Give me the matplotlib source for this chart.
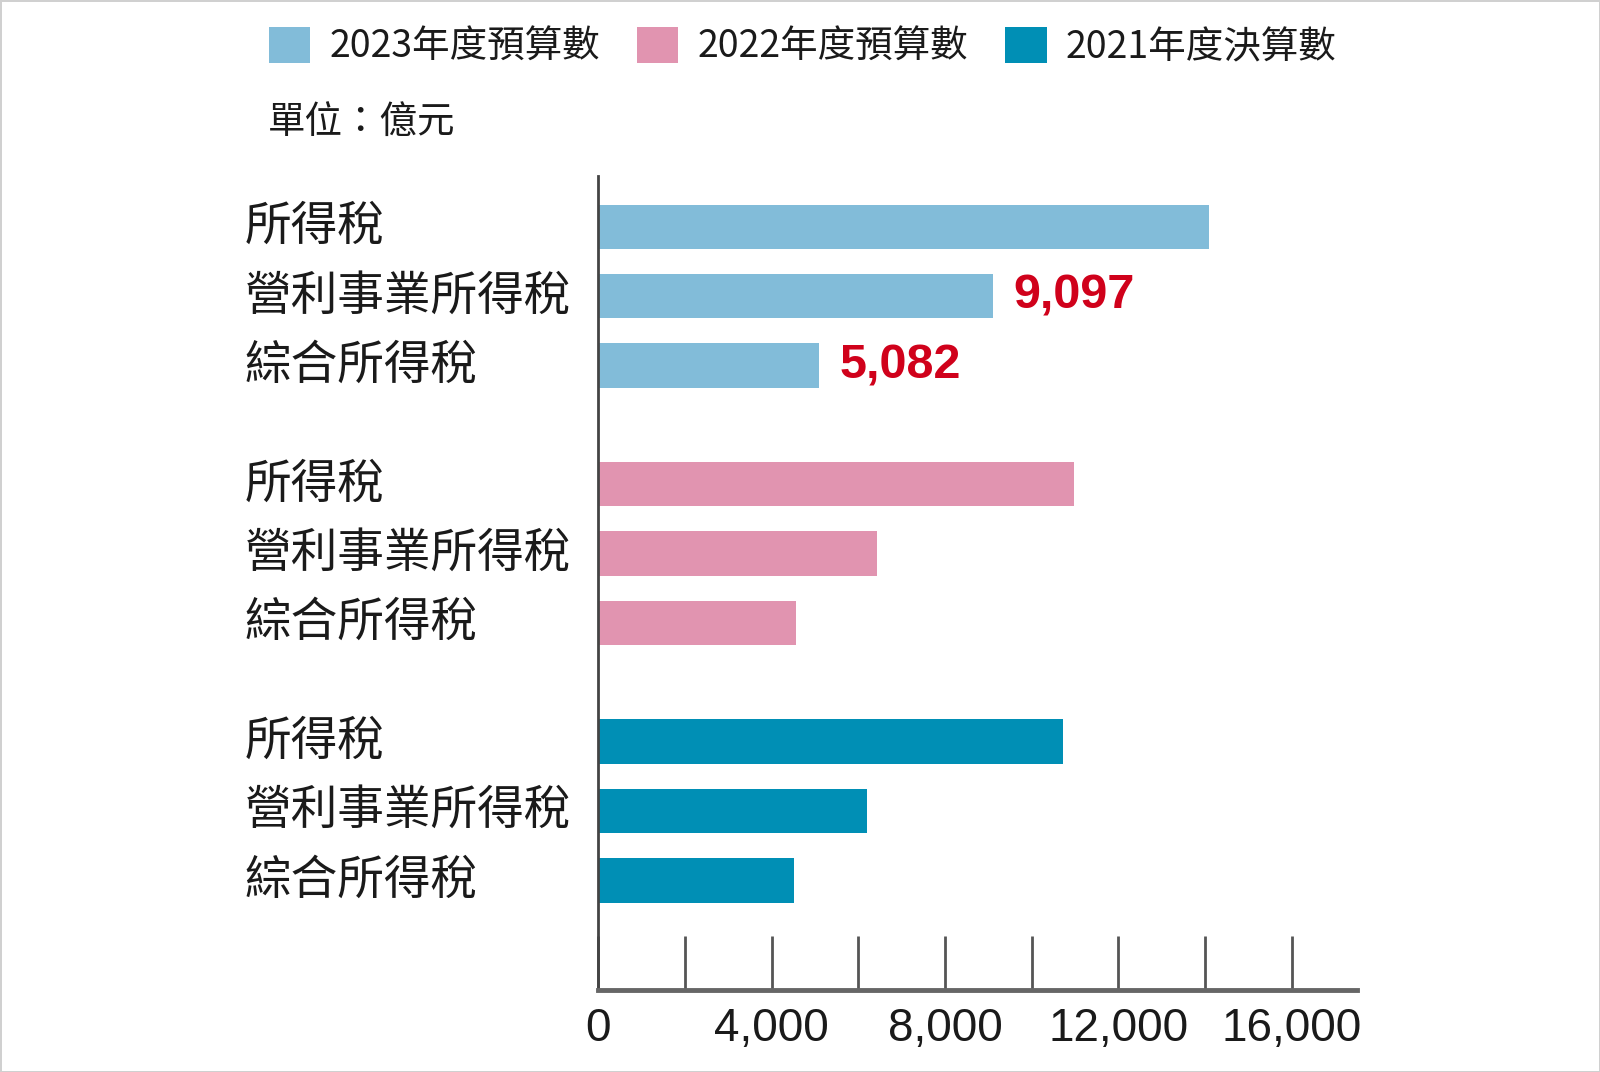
import matplotlib
matplotlib.use("Agg")
import matplotlib.pyplot as plt
from matplotlib.patches import Patch
from matplotlib.transforms import blended_transform_factory

plt.rcParams['font.family'] = ['Liberation Sans', 'Noto Sans CJK TC']
CJK = ['Noto Sans CJK TC', 'DejaVu Sans']

# data (unit: 億元)
years = ['2023年度預算數', '2022年度預算數', '2021年度決算數']
items = ['所得稅', '營利事業所得稅', '綜合所得稅']
vals_2023 = [14100, 9097, 5082]
vals_2022 = [10980, 6440, 4550]
vals_2021 = [10720, 6200, 4520]
labelled = {1: '9,097', 2: '5,082'}   # 2023 bars with value labels
colors = ['#82bcd9', '#e194b0', '#008fb5']
xticks = [0, 4000, 8000, 12000, 16000]
xtick_labels = ['0', '4,000', '8,000', '12,000', '16,000']

fig = plt.figure(figsize=(16, 10.72), dpi=100)
fig.patch.set_edgecolor('#d0d0d0')
fig.patch.set_linewidth(2)
ax = fig.add_axes([0.374, 0.0765, 0.474, 0.7595])

group_gap = 3.71
tr = blended_transform_factory(fig.transFigure, ax.transData)
for g, vals in enumerate([vals_2023, vals_2022, vals_2021]):
    pos = [g * group_gap + i for i in range(len(vals))]
    ax.barh(pos, vals, height=0.64, color=colors[g], zorder=2)
    for p, name in zip(pos, items):
        ax.text(0.153, p, name, transform=tr, ha='left', va='center',
                fontsize=33.6, family=CJK, color='#1a1a1a')
    if g == 0:
        for i, txt in labelled.items():
            ax.annotate(txt, (vals[i], pos[i]), xytext=(15, 0),
                        textcoords='offset points', ha='left', va='center',
                        fontsize=35, fontweight='bold', color='#d0011b')

ax.set_ylim(11.0, -0.735)
ax.set_xlim(0, 17500)
ax.set_yticks([])
ax.set_xticks(xticks)
ax.set_xticklabels(xtick_labels, fontsize=33, color='#1a1a1a')
ax.set_xticks(range(2000, 16001, 4000), minor=True)
ax.tick_params(axis='x', which='both', direction='in', length=39, width=2,
               color='#555555', pad=12)
for s in ['top', 'right']:
    ax.spines[s].set_visible(False)
ax.spines['left'].set_color('#444444')
ax.spines['left'].set_linewidth(2)
ax.spines['bottom'].set_color('#666666')
ax.spines['bottom'].set_linewidth(3.5)

handles = [Patch(facecolor=c, edgecolor='none') for c in colors]
leg = fig.legend(handles, years, loc='center', bbox_to_anchor=(0.5016, 0.956),
                 ncol=3, frameon=False, prop={'family': CJK, 'size': 27},
                 handlelength=1.1, handleheight=1.1, handletextpad=0.5,
                 columnspacing=1.0)
for t in leg.get_texts():
    t.set_color('#1a1a1a')

fig.text(0.1675, 0.885, '單位：億元', ha='left', va='center', fontsize=27,
         family=CJK, color='#1a1a1a')

fig.savefig('out.png', dpi=100)
